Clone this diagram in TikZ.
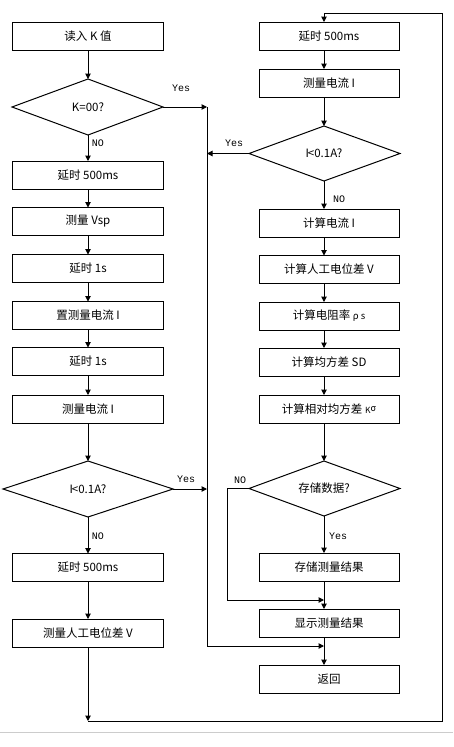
\documentclass[tikz,border=0pt]{standalone}
\usepackage{fontspec}
\setmainfont{Noto Sans CJK SC}
\newfontfamily\labfont{Liberation Mono}
\usetikzlibrary{arrows.meta,shapes.geometric}
\begin{document}
\begin{tikzpicture}[x=1pt,y=-1pt,
  every node/.style={inner sep=0pt,outer sep=0pt},
  txt/.style={font=\fontsize{11.5}{13}\selectfont},
  boxl/.style={txt,draw,line width=1pt,minimum width=151pt,minimum height=28pt},
  boxr/.style={txt,draw,line width=1pt,minimum width=140pt,minimum height=28pt},
  lab/.style={font=\labfont\fontsize{10}{11}\selectfont},
  conn/.style={line width=1pt,-{Triangle[length=5.5pt,width=5.5pt]}},
  line/.style={line width=1pt}]
\useasboundingbox (0,0) rectangle (453,747);
% left column
\node[boxl] (b1) at (88,36) {读入 K 值};
\coordinate (d1t) at (88,79);
\coordinate (d1r) at (163,107);
\coordinate (d1b) at (88,135);
\coordinate (d1l) at (12,107);
\draw[line] (d1l) -- (d1t) -- (d1r) -- (d1b) -- cycle;
\node[txt] (d1) at (88,107) {K=00?};
\node[boxl] (b2) at (88,175) {延时 500ms};
\node[boxl] (b3) at (88,221.5) {测量 Vsp};
\node[boxl] (b4) at (88,268.5) {延时 1s};
\node[boxl] (b5) at (88,315.5) {置测量电流 I};
\node[boxl] (b6) at (88,361.5) {延时 1s};
\node[boxl] (b7) at (88,409) {测量电流 I};
\coordinate (d2t) at (88,461);
\coordinate (d2r) at (173,489);
\coordinate (d2b) at (88,517);
\coordinate (d2l) at (3,489);
\draw[line] (d2l) -- (d2t) -- (d2r) -- (d2b) -- cycle;
\node[txt] (d2) at (88,489) {I\kern-1pt<0.1A?};
\node[boxl] (b8) at (88,567.5) {延时 500ms};
\node[boxl] (b9) at (88,633) {测量人工电位差 V};
% right column
\node[boxr] (r1) at (329,36) {延时 500ms};
\node[boxr] (r2) at (329,83) {测量电流 I};
\coordinate (rd1t) at (324,126);
\coordinate (rd1r) at (400,153.5);
\coordinate (rd1b) at (324,181);
\coordinate (rd1l) at (249,153.5);
\draw[line] (rd1l) -- (rd1t) -- (rd1r) -- (rd1b) -- cycle;
\node[txt] (rd1) at (324,153.5) {I\kern-1pt<0.1A?};
\node[boxr] (r3) at (329,223) {计算电流 I};
\node[boxr] (r4) at (329,269.5) {计算人工电位差 V};
\node[boxr] (r5) at (329,316) {计算电阻率 {\fontsize{9.5}{10}\selectfont ρ s}};
\node[boxr] (r6) at (329,362) {计算均方差 SD};
\node[boxr] (r7) at (329,409) {计算相对均方差 {\fontsize{8.5}{9}\selectfont K}{\raisebox{1.5pt}{\fontsize{9}{9}\selectfont σ}}};
\coordinate (rd2t) at (324,461);
\coordinate (rd2r) at (400,488.5);
\coordinate (rd2b) at (324,516);
\coordinate (rd2l) at (249,488.5);
\draw[line] (rd2l) -- (rd2t) -- (rd2r) -- (rd2b) -- cycle;
\node[txt] (rd2) at (324,488.5) {存储数据?};
\node[boxr] (r8) at (329,567) {存储测量结果};
\node[boxr] (r9) at (329,623) {显示测量结果};
\node[boxr] (r10) at (329,679) {返回};
% bus coordinates
\coordinate (bus1) at (207,107);
\coordinate (bus2) at (207,153.5);
\coordinate (bus3) at (207,489);
\coordinate (bus4) at (207,646);
\coordinate (join1) at (324,646);
\coordinate (nol) at (227,488.5);
\coordinate (nob) at (227,600);
\coordinate (join2) at (324,600);
\coordinate (lb) at (88,721);
\coordinate (rb) at (442,721);
\coordinate (rt) at (442,13);
\coordinate (lt) at (324,13);
% left connectors
\draw[conn] (b1) -- (d1t);
\draw[conn] (d1b) -- (b2);
\draw[conn] (b2) -- (b3);
\draw[conn] (b3) -- (b4);
\draw[conn] (b4) -- (b5);
\draw[conn] (b5) -- (b6);
\draw[conn] (b6) -- (b7);
\draw[conn] (b7) -- (d2t);
\draw[conn] (d2b) -- (b8);
\draw[conn] (b8) -- (b9);
\draw[conn] (b9.south -| lb) -- (lb);
\draw[line] (lb) -- (rb) -- (rt) -- (lt);
\draw[conn] (lt) -- (lt |- r1.north);
% yes lines to bus
\draw[conn] (d1r) -- (bus1);
\draw[conn] (rd1l) -- (bus2);
\draw[conn] (d2r) -- (bus3);
\draw[line] (bus1) -- (bus4);
\draw[conn] (bus4) -- (join1);
% right connectors
\draw[conn] (r1.south -| lt) -- (r2.north -| lt);
\draw[conn] (r2.south -| lt) -- (rd1t);
\draw[conn] (rd1b) -- (r3.north -| lt);
\draw[conn] (r3.south -| lt) -- (r4.north -| lt);
\draw[conn] (r4.south -| lt) -- (r5.north -| lt);
\draw[conn] (r5.south -| lt) -- (r6.north -| lt);
\draw[conn] (r6.south -| lt) -- (r7.north -| lt);
\draw[conn] (r7.south -| lt) -- (rd2t);
\draw[conn] (rd2b) -- (r8.north -| lt);
\draw[conn] (r8.south -| lt) -- (r9.north -| lt);
\draw[line] (rd2l) -- (nol) -- (nob);
\draw[conn] (nob) -- (join2);
\draw[conn] (r9.south -| lt) -- (r10.north -| lt);
% labels
\node[lab] at (181,88) {Yes};
\node[lab] at (98,143) {NO};
\node[lab] at (234,143) {Yes};
\node[lab] at (339,199) {NO};
\node[lab] at (186,479) {Yes};
\node[lab] at (98,536) {NO};
\node[lab] at (240,480) {NO};
\node[lab] at (338,536) {Yes};
% bottom gray rule
\draw[gray!40,line width=0.8pt] (0,732) -- (453,732);
\end{tikzpicture}
\end{document}
